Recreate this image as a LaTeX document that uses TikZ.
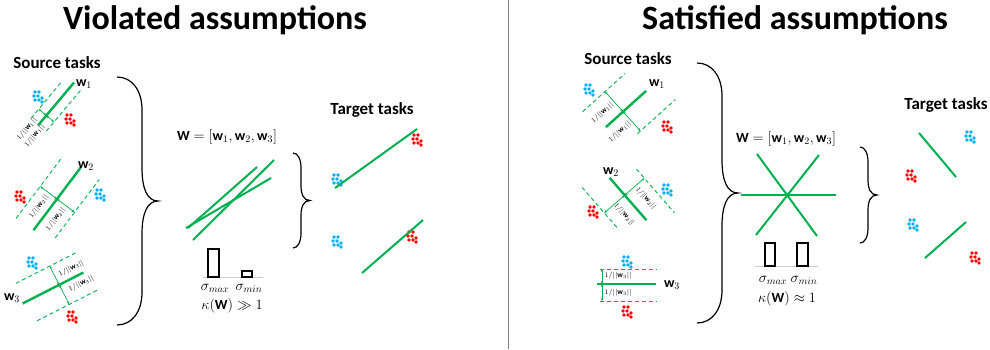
\documentclass[tikz,border=0pt]{standalone}
\usepackage{fontspec}
\setmainfont{Carlito}
\usetikzlibrary{arrows.meta}
\definecolor{gr}{RGB}{0,176,80}
\definecolor{cb}{RGB}{0,176,240}
\definecolor{cr}{RGB}{255,0,0}
\tikzset{
 wline/.style={gr, line width=2.4pt},
 dline/.style={gr, line width=0.9pt, dash pattern=on 4pt off 3pt},
 marg/.style={gr, line width=0.7pt, {Stealth[length=3pt,width=2.6pt]}-{Stealth[length=3pt,width=2.6pt]}},
 lab/.style={font=\fontsize{7.5}{8}\selectfont, inner sep=0.5pt, transform shape},
 brc/.style={black, line width=1.2pt},
 ttl/.style={font=\fontsize{34}{36}\selectfont\bfseries},
 hdr/.style={font=\fontsize{17}{19}\selectfont\bfseries},
 mth/.style={font=\fontsize{14}{16}\selectfont, inner sep=0pt},
 wlab/.style={font=\fontsize{14}{16}\selectfont, inner sep=0pt},
 bar/.style={black, line width=1.2pt},
 pics/bclust/.style={code={\foreach \p in {(-3,-5),(1,-5),(-4,-1),(0,-1),(4,1),(-3,3),(1,3),(4,5)} \fill[cb] \p circle (1.9);}},
 pics/rclust/.style={code={\foreach \p in {(-3,-5),(1,-5),(-4,-1),(0,-1),(4,1),(-3,3),(1,3),(4,5)} \fill[cr] \p circle (1.9);}},
}
\newcommand{\mybrace}[6]{%
 \draw[brc] (#1,#2) .. controls ({#1+0.6*(#4-#1)},#2) and (#4,{#2+0.4*#6}) .. (#4,{#2+#6})
  -- (#4,{(#2+#3)/2-#6}) .. controls (#4,{(#2+#3)/2-0.4*#6}) and ({#4+0.3*(#5-#4)},{(#2+#3)/2}) .. (#5,{(#2+#3)/2})
  .. controls ({#4+0.3*(#5-#4)},{(#2+#3)/2}) and (#4,{(#2+#3)/2+0.4*#6}) .. (#4,{(#2+#3)/2+#6})
  -- (#4,{#3-#6}) .. controls (#4,{#3-0.4*#6}) and ({#1+0.6*(#4-#1)},#3) .. (#1,#3);
}
\begin{document}
\begin{tikzpicture}[x=1pt,y=-1pt]
\fill[white] (0,0) rectangle (990,349);
\useasboundingbox (0,0) rectangle (990,349);
\draw[gray, line width=0.8pt] (508,0) -- (508,349);

% ---------------- LEFT: violated ----------------
\node[ttl] (t1) at (215,20) {Violated assumptions};
\node[hdr] (s1) at (57,63) {Source tasks};

% task 1
\begin{scope}[shift={(56,104)}, rotate=50]
 \draw[dline] (-27,-10) -- (22,-10);
 \draw[dline] (-27,10) -- (26,10);
 \draw[wline] (-28,0) -- (28,0);
 \draw[marg] (-15,0) -- (-15,-10);
 \draw[marg] (-15,0) -- (-15,10);
 \node[lab] (la1) at (-38,-6) {$1/||\mathbf{w}_1||$};
 \node[lab] (la2) at (-38,4) {$1/||\mathbf{w}_1||$};
\end{scope}
\node[wlab] (w1a) at (84,84) {$\mathbf{w}_1$};
\pic at (38,97) {bclust};
\pic at (70,120) {rclust};

% task 2
\begin{scope}[shift={(57,199)}, rotate=53]
 \draw[dline] (-40,-21) -- (37,-21);
 \draw[dline] (-32,22) -- (41,22);
 \draw[wline] (-39,0) -- (39,0);
 \draw[marg] (0,0) -- (0,-21);
 \draw[marg] (0,0) -- (0,22);
 \node[lab] (lb1) at (-17,-10) {$1/||\mathbf{w}_2||$};
 \node[lab] (lb2) at (-17,11) {$1/||\mathbf{w}_2||$};
\end{scope}
\node[wlab] (w2a) at (86,166) {$\mathbf{w}_2$};
\pic at (20,197) {rclust};
\pic at (100,195) {bclust};

% task 3
\begin{scope}[shift={(53,288)}, rotate=27]
 \draw[dline] (-31,-21) -- (37,-21);
 \draw[dline] (-29,22) -- (40,22);
 \draw[wline] (-34,0) -- (34,0);
 \draw[marg] (7,0) -- (7,-21);
 \draw[marg] (7,0) -- (7,22);
 \node[lab] (lc1) at (25,-9) {$1/||\mathbf{w}_3||$};
 \node[lab] (lc2) at (27,9) {$1/||\mathbf{w}_3||$};
\end{scope}
\node[wlab] (w3a) at (12,298) {$\mathbf{w}_3$};
\pic at (32,263) {bclust};
\pic at (72,317) {rclust};

\mybrace{117}{77}{325}{142}{158}{33}

% middle
\node[mth] (Wa) at (227,137) {$\mathbf{W}=[\mathbf{w}_1,\mathbf{w}_2,\mathbf{w}_3]$};
\draw[gr, line width=2pt] (193,240) -- (274,160);
\draw[gr, line width=2pt] (188,228) -- (257,167);
\draw[gr, line width=2pt] (186,228) -- (271,178);
\draw[black!20, line width=0.8pt] (203,277) -- (263,277);
\draw[bar] (208,277) rectangle (219,249);
\draw[bar] (242,277) rectangle (252,271);
\node[mth] (sma) at (215,288) {$\sigma_{max}$};
\node[mth] (smi) at (249,288) {$\sigma_{min}$};
\node[mth] (ka) at (232,306) {$\kappa(\mathbf{W})\gg 1$};

\mybrace{293}{153}{248}{301}{310}{15}

% targets
\node[hdr] (tg1) at (372,110) {Target tasks};
\pic at (417,140) {rclust};
\pic at (337,180) {bclust};
\draw[gr, line width=2pt] (335,188) -- (417,129);
\pic at (337,242) {bclust};
\pic at (412,237) {rclust};
\draw[gr, line width=2pt] (362,273) -- (423,220);

% ---------------- RIGHT: satisfied ----------------
\node[ttl] (t2) at (795,20) {Satisfied assumptions};
\node[hdr] (s2) at (628,59) {Source tasks};

% task 1
\begin{scope}[shift={(626,109)}, rotate=42]
 \draw[dline] (-34,-27) -- (23,-27);
 \draw[dline] (-8,26) -- (43,26);
 \draw[wline] (-27,0) -- (27,0);
 \draw[marg] (-4,0) -- (-4,-27);
 \draw[marg] (-4,0) -- (-4,26);
 \node[lab] (ld1) at (-20,-13) {$1/||\mathbf{w}_1||$};
 \node[lab] (ld2) at (-20,13) {$1/||\mathbf{w}_1||$};
\end{scope}
\node[wlab] (w1b) at (657,84) {$\mathbf{w}_1$};
\pic at (589,90) {bclust};
\pic at (667,127) {rclust};

% task 2
\begin{scope}[shift={(628,199)}, rotate=-49]
 \draw[dline] (-39,27) -- (17,27);
 \draw[dline] (-17,-26) -- (41,-26);
 \draw[wline] (-28,0) -- (28,0);
 \draw[marg] (-5,0) -- (-5,27);
 \draw[marg] (-5,0) -- (-5,-26);
 \node[lab] (le1) at (11,-14) {$1/||\mathbf{w}_2||$};
 \node[lab] (le2) at (9,13) {$1/||\mathbf{w}_2||$};
\end{scope}
\node[wlab] (w2b) at (611,172) {$\mathbf{w}_2$};
\pic at (593,212) {rclust};
\pic at (667,190) {bclust};

% task 3
\draw[dline] (600,269) -- (657,269);
\draw[dline] (600,301) -- (657,301);
\draw[wline] (597,284) -- (656,284);
\draw[marg] (602,284) -- (602,269);
\draw[marg] (602,284) -- (602,301);
\node[lab, anchor=west] (lf1) at (604,276) {$1/||\mathbf{w}_3||$};
\node[lab, anchor=west] (lf2) at (604,293) {$1/||\mathbf{w}_3||$};
\node[wlab] (w3b) at (672,285) {$\mathbf{w}_3$};
\pic at (627,262) {bclust};
\pic at (627,312) {rclust};

\mybrace{697}{63}{323}{722}{738}{33}

% middle
\node[mth] (Wb) at (786,139) {$\mathbf{W}=[\mathbf{w}_1,\mathbf{w}_2,\mathbf{w}_3]$};
\draw[gr, line width=2pt] (757,154) -- (817,236);
\draw[gr, line width=2pt] (819,155) -- (756,235);
\draw[gr, line width=2pt] (741,195) -- (836,195);
\draw[black!20, line width=0.8pt] (755,266) -- (818,266);
\draw[bar] (765,266) rectangle (775,243);
\draw[bar] (797,266) rectangle (808,243);
\node[mth] (smb) at (773,280) {$\sigma_{max}$};
\node[mth] (smc) at (804,280) {$\sigma_{min}$};
\node[mth] (kb) at (787,299) {$\kappa(\mathbf{W})\approx 1$};

\mybrace{860}{147}{243}{868}{877}{15}

% targets
\node[hdr] (tg2) at (946,105) {Target tasks};
\draw[gr, line width=2pt] (919,133) -- (956,177);
\pic at (970,137) {bclust};
\pic at (911,176) {rclust};
\draw[gr, line width=2pt] (925,258) -- (966,222);
\pic at (913,225) {bclust};
\pic at (975,258) {rclust};
\end{tikzpicture}
\end{document}
